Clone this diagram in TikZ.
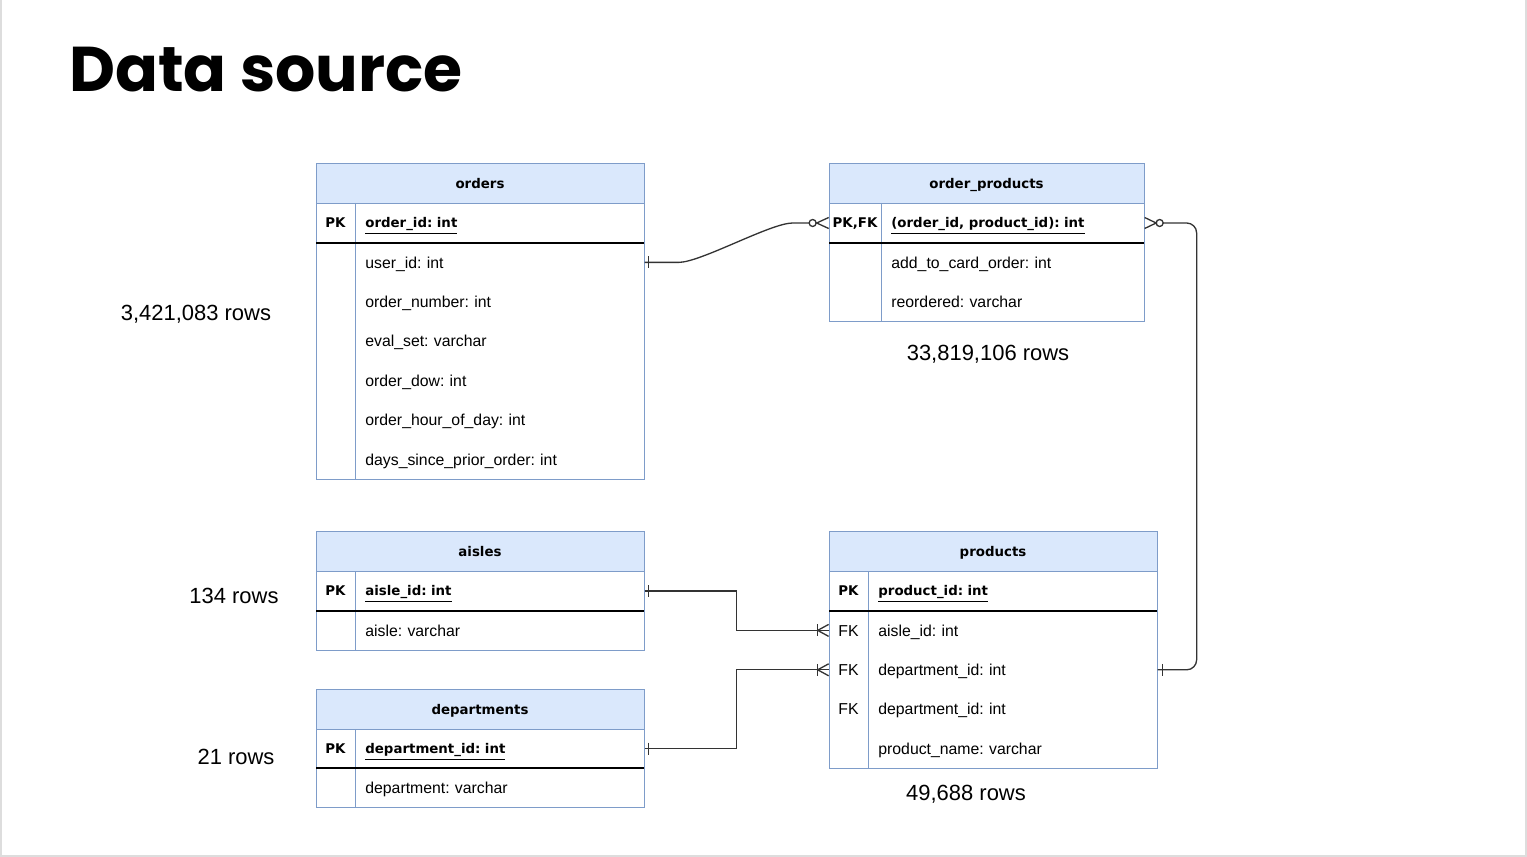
\documentclass[tikz,border=0pt]{standalone}
\usepackage{fontspec}
\setmainfont{Liberation Sans}
\newfontfamily\hdrfamily{DejaVu Sans}
\newfontfamily\titlefamily{Poppins}
\usetikzlibrary{calc,positioning}
\definecolor{tblline}{HTML}{7E9CC9}
\definecolor{tblhead}{HTML}{DAE8FC}
\definecolor{framegray}{HTML}{DDDDDD}
\definecolor{connline}{HTML}{333333}
\frenchspacing

\newcommand{\fieldfont}{\fontsize{9}{11}\selectfont}
\newcommand{\boldfont}{\hdrfamily\bfseries\fontsize{7.6}{9}\selectfont}
\newcommand{\rowsfont}{\fontsize{12.5}{15}\selectfont}

\tikzset{
  hdr/.style={draw=tblline, fill=tblhead, line width=0.5pt, minimum width=328*0.02cm,
    minimum height=39.5*0.02cm, inner sep=0pt, font=\boldfont, text height=5.6pt, text depth=0pt},
  tbl/.style={draw=tblline, line width=0.5pt},
  keyline/.style={draw=black, line width=0.6pt},
  keycell/.style={minimum width=39*0.02cm, minimum height=39*0.02cm, inner sep=0pt,
    font=\boldfont, text height=5.6pt, text depth=0pt},
  field/.style={anchor=west, text width=#1, align=left, inner xsep=0.2cm, inner ysep=0pt,
    minimum height=39*0.02cm, font=\fieldfont, text height=6.5pt, text depth=0pt},
  field/.default=5.38cm,
  pkfield/.style={field=#1, font=\boldfont, text height=5.6pt},
  pkfield/.default=5.38cm,
  rows/.style={font=\rowsfont, inner sep=0pt, text height=9pt, text depth=0pt},
  conn/.style={draw=connline, line width=0.75pt},
}

\begin{document}
\begin{tikzpicture}[x=0.02cm, y=-0.02cm]
    \useasboundingbox (0,0) rectangle (1527,857);
    \draw[framegray, line width=0.9pt] (1,0) -- (1,856) -- (1526,856) -- (1526,0);
    \node[anchor=base west, inner sep=0pt, font=\titlefamily\bfseries\fontsize{36}{38}\selectfont] (title) at (69,92) {Data source};

    % orders
    \node[hdr] (orders) at (480,183.5) {orders};
    \draw[tbl] (316,203) rectangle (644,479);
    \draw[tbl] (355,203) -- (355,479);
    \draw[keyline] (316,243) -- (644,243);
    \node[keycell] (ord-pk) at (335.5,223) {PK};
    \node[pkfield] (ord-id) at (355,223) {\underline{order\_id: int}};
    \foreach \f [count=\i] in {user\_id: int, order\_number: int, eval\_set: varchar, order\_dow: int, order\_hour\_of\_day: int, days\_since\_prior\_order: int}
        \node[field] (ord-f\i) at (355,223+39.4*\i) {\f};
    \node[rows] (ord-rows) at (196,313) {3,421,083 rows};

    % order_products
    \node[hdr, minimum width=315*0.02cm] (op) at (986.5,183.5) {order\_products};
    \draw[tbl] (829,203) rectangle (1144,321);
    \draw[tbl] (881,203) -- (881,321);
    \draw[keyline] (829,243) -- (1144,243);
    \node[keycell, minimum width=52*0.02cm] (op-pk) at (855,223) {PK,FK};
    \node[pkfield=4.86cm] (op-id) at (881,223) {\underline{(order\_id, product\_id): int}};
    \foreach \f [count=\i] in {add\_to\_card\_order: int, reordered: varchar}
        \node[field=4.86cm] (op-f\i) at (881,223+39.4*\i) {\f};
    \node[rows] (op-rows) at (988,353) {33,819,106 rows};

    % aisles
    \node[hdr] (aisles) at (480,551.5) {aisles};
    \draw[tbl] (316,571) rectangle (644,650);
    \draw[tbl] (355,571) -- (355,650);
    \draw[keyline] (316,611) -- (644,611);
    \node[keycell] (aisle-pk) at (335.5,591) {PK};
    \node[pkfield] (aisle-id) at (355,591) {\underline{aisle\_id: int}};
    \node[field] (aisle-f1) at (355,630.5) {aisle: varchar};
    \node[rows] (aisle-rows) at (234,596) {134 rows};

    % departments
    \node[hdr] (depts) at (480,709.5) {departments};
    \draw[tbl] (316,729) rectangle (644,807);
    \draw[tbl] (355,729) -- (355,807);
    \draw[keyline] (316,768) -- (644,768);
    \node[keycell] (dept-pk) at (335.5,748.5) {PK};
    \node[pkfield] (dept-id) at (355,748.5) {\underline{department\_id: int}};
    \node[field] (dept-f1) at (355,788) {department: varchar};
    \node[rows] (dept-rows) at (236,757) {21 rows};

    % products
    \node[hdr] (products) at (993,551.5) {products};
    \draw[tbl] (829,571) rectangle (1157,768);
    \draw[tbl] (868,571) -- (868,768);
    \draw[keyline] (829,611) -- (1157,611);
    \node[keycell] (prod-pk) at (848.5,591) {PK};
    \node[pkfield] (prod-id) at (868,591) {\underline{product\_id: int}};
    \foreach \k/\f [count=\i] in {FK/aisle\_id: int, FK/department\_id: int, FK/department\_id: int, /product\_name: varchar}{
        \node[keycell, font=\fieldfont, text height=6.5pt] (prod-k\i) at (848.5,591+39.4*\i) {\k};
        \node[field] (prod-f\i) at (868,591+39.4*\i) {\f};
    }
    \node[rows] (prod-rows) at (966,793) {49,688 rows};

    % orders -- order_products
    \draw[conn] (ord-f1.east) -- ++(34,0) .. controls +(22,0) and +(-22,0) .. ($(op-pk.west)+(-36,0)$) -- ($(op-pk.west)+(-19.5,0)$);
    \draw[conn] ($(ord-f1.east)+(4,-6)$) -- ++(0,12);
    \draw[conn] ($(op-pk.west)+(-16,0)$) circle (0.07cm);
    \draw[conn] ($(op-pk.west)+(0,-5.5)$) -- ($(op-pk.west)+(-12,0)$) -- ($(op-pk.west)+(0,5.5)$);

    % order_products -- products
    \draw[conn, rounded corners=0.2cm] ($(op-id.east)+(18.5,0)$) -| ($(prod-f2.east)+(39,0)$) -- (prod-f2.east);
    \draw[conn] ($(op-id.east)+(15,0)$) circle (0.07cm);
    \draw[conn] ($(op-id.east)+(0,-5.5)$) -- ($(op-id.east)+(11.5,0)$) -- ($(op-id.east)+(0,5.5)$);
    \draw[conn] ($(prod-f2.east)+(5,-6)$) -- ++(0,12);

    % aisles -- products
    \draw[conn] (aisle-id.east) -- ++(92,0) |- (prod-k1.west);
    \draw[conn] ($(aisle-id.east)+(4,-6)$) -- ++(0,12);
    \draw[conn] ($(prod-k1.west)+(-11,-6)$) -- ++(0,12);
    \draw[conn] ($(prod-k1.west)+(0,-6)$) -- ($(prod-k1.west)+(-11,0)$) -- ($(prod-k1.west)+(0,6)$);

    % departments -- products
    \draw[conn] (dept-id.east) -- ++(92,0) |- (prod-k2.west);
    \draw[conn] ($(dept-id.east)+(4,-6)$) -- ++(0,12);
    \draw[conn] ($(prod-k2.west)+(-11,-6)$) -- ++(0,12);
    \draw[conn] ($(prod-k2.west)+(0,-6)$) -- ($(prod-k2.west)+(-11,0)$) -- ($(prod-k2.west)+(0,6)$);
\end{tikzpicture}
\end{document}
